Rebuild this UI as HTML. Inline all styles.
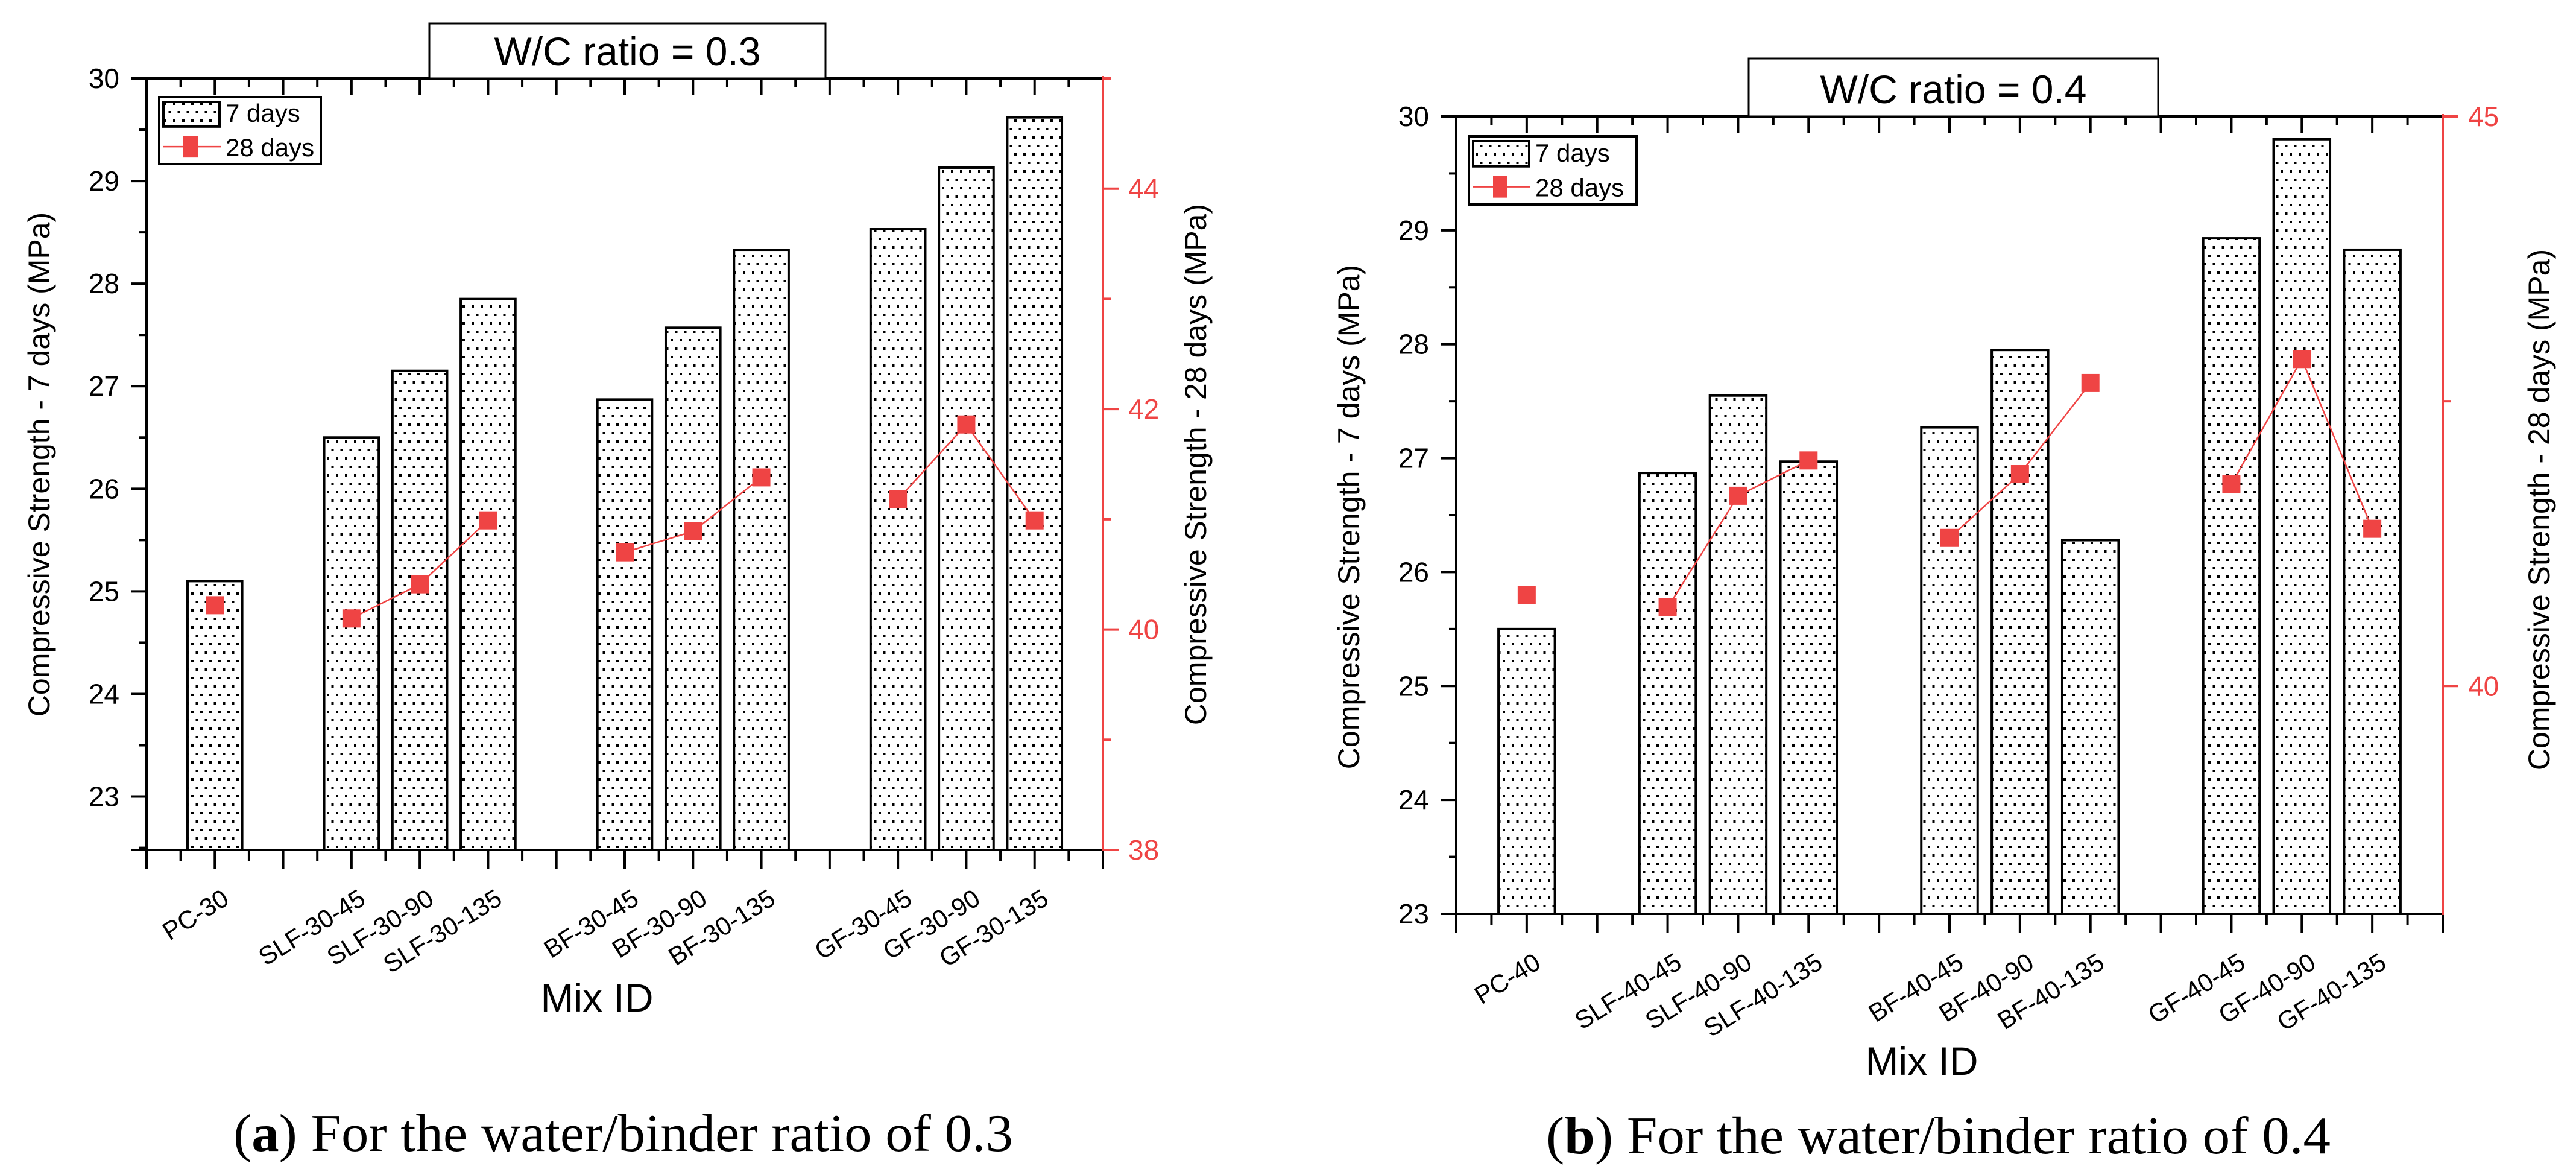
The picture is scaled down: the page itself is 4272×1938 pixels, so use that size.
<!DOCTYPE html>
<html><head><meta charset="utf-8"><style>
html,body{margin:0;padding:0;background:#fff;}
svg{display:block;font-family:"Liberation Sans",Arial,sans-serif;}
</style></head><body>
<svg id="fig" width="4272" height="1938" viewBox="0 0 4272 1938" xmlns="http://www.w3.org/2000/svg">
<defs>
<pattern id="dots" patternUnits="userSpaceOnUse" width="15" height="28">
<rect x="2" y="2" width="4" height="4" fill="#000"/>
<rect x="9.5" y="16" width="4" height="4" fill="#000"/>
</pattern>
</defs>
</svg>
<script>
const categories = ["PC","SLF-45","SLF-90","SLF-135","BF-45","BF-90","BF-135","GF-45","GF-90","GF-135"];
const labelsA = ["PC-30","SLF-30-45","SLF-30-90","SLF-30-135","BF-30-45","BF-30-90","BF-30-135","GF-30-45","GF-30-90","GF-30-135"];
const labelsB = ["PC-40","SLF-40-45","SLF-40-90","SLF-40-135","BF-40-45","BF-40-90","BF-40-135","GF-40-45","GF-40-90","GF-40-135"];
const catPos = [1,3,4,5,7,8,9,11,12,13];
const groups = [[0],[1,2,3],[4,5,6],[7,8,9]];
const days7A = [25.1,26.5,27.15,27.85,26.87,27.57,28.33,28.53,29.13,29.62];
const days28A = [40.22,40.1,40.41,40.99,40.7,40.89,41.38,41.18,41.86,40.99];
const days7B = [25.5,26.87,27.55,26.97,27.27,27.95,26.28,28.93,29.8,28.83];
const days28B = [40.8,40.69,41.67,41.98,41.3,41.86,42.66,41.77,42.87,41.38];
const leftTicksA = [23,24,25,26,27,28,29,30];
const rightTicksA = [38,40,42,44];
const leftTicksB = [23,24,25,26,27,28,29,30];
const rightTicksB = [40,45];

const NS = "http://www.w3.org/2000/svg";
const svg = document.getElementById('fig');
const RED = "#ef4444";
function mk(tag, attrs, parent){
  const e = document.createElementNS(NS, tag);
  for (const k in attrs) e.setAttribute(k, attrs[k]);
  (parent||svg).appendChild(e);
  return e;
}

function chart(c){
  const g = mk('g', {});
  
  
  const X = v => c.x0 + (c.x1 - c.x0) * v / 14;
  const Y = v => c.yb - (c.yb - c.yt) * (v - c.lmin) / (c.lmax - c.lmin);
  const YR = v => c.yb - (c.yb - c.yt) * (v - c.rmin) / (c.rmax - c.rmin);
  c.d7.forEach((v,i)=>{
    const bw = (c.x1-c.x0)/14*0.8;
    const r = mk('rect', {x: X(catPos[i]) - bw/2, y: Y(v), width: bw, height: c.yb - Y(v), fill: 'url(#dots)', stroke: '#000', 'stroke-width': 4}, g);
    
    
  });
  const ax = mk('g', {stroke: '#000', 'stroke-width': 4}, g);
  
  
  mk('line', {x1: c.x0, y1: c.yt, x2: c.x0, y2: c.yb}, ax);
  mk('line', {x1: c.x0 - 25, y1: c.yb, x2: c.x1, y2: c.yb}, ax);
  mk('line', {x1: c.x0 - 25, y1: c.yt, x2: c.x1, y2: c.yt}, ax);
  for (let k = 0; k <= 28; k++){
    const v = k/2, maj = k%2===0;
    mk('line', {x1: X(v), y1: c.yb, x2: X(v), y2: c.yb + (maj?32:18)}, ax);
    if (k>0 && k<28) mk('line', {x1: X(v), y1: c.yt, x2: X(v), y2: c.yt + (maj?28:14)}, ax);
  }
  c.lt.forEach(v=>{
    mk('line', {x1: c.x0 - 25, y1: Y(v), x2: c.x0, y2: Y(v)}, ax);
    const t = mk('text', {x: c.x0 - 45, y: Y(v) + 16, 'font-size': 46, 'text-anchor': 'end', fill: '#000'}, g);
    t.textContent = v;
    
    
  });
  for (let v = c.lt[0] - 0.5; v < c.lmax; v += 1){
    if (v > c.lmin) mk('line', {x1: c.x0 - 12, y1: Y(v), x2: c.x0, y2: Y(v)}, ax);
  }
  const rax = mk('g', {stroke: RED, 'stroke-width': 4}, g);
  
  
  mk('line', {x1: c.x1, y1: c.yt - 4, x2: c.x1, y2: c.yb + 2}, rax);
  c.rt.forEach(v=>{
    mk('line', {x1: c.x1, y1: YR(v), x2: c.x1 + 26, y2: YR(v)}, rax);
    const t = mk('text', {x: c.x1 + 42, y: YR(v) + 16, 'font-size': 46, fill: RED}, g);
    t.textContent = v;
    
    
  });
  c.rminor.forEach(v=>{ mk('line', {x1: c.x1, y1: YR(v), x2: c.x1 + 14, y2: YR(v)}, rax); });
  groups.forEach(gr=>{
    if (gr.length > 1){
      const pts = gr.map(i => X(catPos[i]) + ',' + YR(c.d28[i])).join(' ');
      const pl = mk('polyline', {points: pts, fill: 'none', stroke: RED, 'stroke-width': 2.5}, g);
      
      
    }
  });
  c.d28.forEach((v,i)=>{
    const m = mk('rect', {x: X(catPos[i]) - 15, y: YR(v) - 15, width: 30, height: 30, fill: RED}, g);
    
    
  });
  c.labels.forEach((s,i)=>{
    const x = X(catPos[i]) + 26, y = c.yb + 88;
    const t = mk('text', {x: x, y: y, 'font-size': 42, 'text-anchor': 'end', transform: 'rotate(-32 ' + x + ' ' + y + ')', fill: '#000'}, g);
    t.textContent = s;
    
    
  });
  const tb = mk('rect', {x: c.tb[0], y: c.tb[1], width: c.tb[2]-c.tb[0], height: c.tb[3]-c.tb[1], fill: '#fff', stroke: '#000', 'stroke-width': 3}, g);
  
  
  const tt = mk('text', {x: (c.tb[0]+c.tb[2])/2, y: c.tb[3] - 22, 'font-size': 66, 'text-anchor': 'middle', fill: '#000'}, g);
  tt.textContent = c.title;
  
  
  const L = c.lg;
  const lgg = mk('g', {}, g);
  
  
  mk('rect', {x: L[0], y: L[1], width: L[2]-L[0], height: L[3]-L[1], fill: '#fff', stroke: '#000', 'stroke-width': 4}, lgg);
  const h = (L[3]-L[1]);
  mk('rect', {x: L[0]+7, y: L[1]+8, width: 93, height: h*0.44 - 8, fill: 'url(#dots)', stroke: '#000', 'stroke-width': 4}, lgg);
  const e1 = mk('text', {x: L[0]+110, y: L[1] + h*0.37, 'font-size': 42, fill: '#000'}, lgg);
  e1.textContent = '7 days';
  
  
  const ly = L[1] + h*0.74;
  mk('line', {x1: L[0]+6, y1: ly, x2: L[0]+102, y2: ly, stroke: RED, 'stroke-width': 2.5}, lgg);
  mk('rect', {x: L[0]+40, y: ly-18, width: 24, height: 36, fill: RED}, lgg);
  const e2 = mk('text', {x: L[0]+110, y: ly + 16, 'font-size': 42, fill: '#000'}, lgg);
  e2.textContent = '28 days';
  
  
  const lt = mk('text', {x: c.ltx, y: c.lty, 'font-size': 50, 'text-anchor': 'middle', transform: 'rotate(-90 ' + c.ltx + ' ' + c.lty + ')', fill: '#000'}, g);
  lt.textContent = 'Compressive Strength - 7 days (MPa)';
  
  
  const rt = mk('text', {x: c.rtx, y: c.rty, 'font-size': 50, 'text-anchor': 'middle', transform: 'rotate(-90 ' + c.rtx + ' ' + c.rty + ')', fill: '#000'}, g);
  rt.textContent = 'Compressive Strength - 28 days (MPa)';
  
  
  const xt = mk('text', {x: c.xtx, y: c.xty, 'font-size': 66, 'text-anchor': 'middle', fill: '#000'}, g);
  xt.textContent = 'Mix ID';
  
  
  const cap = mk('text', {x: c.cap[0], y: c.cap[2], 'font-size': 88, textLength: c.cap[1]-c.cap[0], lengthAdjust: 'spacingAndGlyphs', fill: '#000', style: 'font-family:"Liberation Serif",serif'}, g);
  
  
  const t1 = mk('tspan', {}, cap); t1.textContent = '(';
  const t2 = mk('tspan', {'font-weight': 'bold'}, cap); t2.textContent = c.capLetter;
  const t3 = mk('tspan', {}, cap); t3.textContent = ') For the water/binder ratio of ' + c.capRatio;
}

chart({name: 'chart-wc-0-3', x0: 243, x1: 1829, yt: 130, yb: 1409, lmin: 22.48, lmax: 30, rmin: 38, rmax: 45,
  d7: days7A, d28: days28A, labels: labelsA, lt: leftTicksA, rt: rightTicksA, rminor: [39,41,43,45],
  tb: [712, 39, 1369, 130], title: 'W/C ratio = 0.3', lg: [264, 161, 532, 272],
  ltx: 82, lty: 770, rtx: 2000, rty: 770, xtx: 990, xty: 1677, cap: [387, 1680, 1908], capLetter: 'a', capRatio: '0.3'});
chart({name: 'chart-wc-0-4', x0: 2415, x1: 4051, yt: 193, yb: 1515, lmin: 23, lmax: 30, rmin: 38, rmax: 45,
  d7: days7B, d28: days28B, labels: labelsB, lt: leftTicksB, rt: rightTicksB, rminor: [42.5],
  tb: [2900, 97, 3579, 193], title: 'W/C ratio = 0.4', lg: [2436, 226, 2714, 339],
  ltx: 2254, lty: 857, rtx: 4228, rty: 845, xtx: 3187, xty: 1782, cap: [2564, 3865, 1912], capLetter: 'b', capRatio: '0.4'});
</script>
</body></html>
